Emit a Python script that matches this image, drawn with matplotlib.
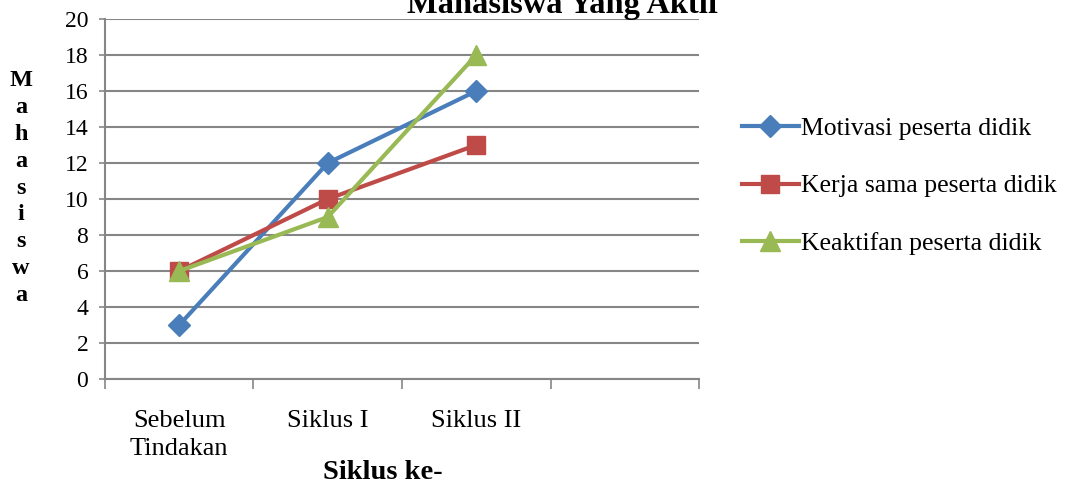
import matplotlib.pyplot as plt

siklus = ["Sebelum\nTindakan", "Siklus I", "Siklus II"]
motivasi = [3, 12, 16]
kerja_sama = [6, 10, 13]
keaktifan = [6, 9, 18]

plt.rcParams['font.family'] = ['Liberation Serif', 'DejaVu Serif']

fig = plt.figure(figsize=(10.68, 4.84), dpi=100)
ax = fig.add_axes([0.0983, 0.2169, 0.5562, 0.7438])

x = list(range(len(siklus)))
ax.plot(x, motivasi, color='#4A7EBB', lw=3, marker='D', ms=11,
        label='Motivasi peserta didik', zorder=3)
ax.plot(x, kerja_sama, color='#BE4B48', lw=3, marker='s', ms=13,
        label='Kerja sama peserta didik', zorder=3)
ax.plot(x, keaktifan, color='#98B954', lw=3, marker='^', ms=14,
        label='Keaktifan peserta didik', zorder=3)

ax.set_xlim(-0.5, 3.5)
ax.set_ylim(0, 20)
ax.set_yticks(range(0, 21, 2))
ax.yaxis.grid(True, color='#868686', lw=1.5)
ax.set_axisbelow(True)

# category boundaries get the tick marks, the labels sit between them
ax.set_xticks([-0.5, 0.5, 1.5, 2.5, 3.5])
ax.set_xticklabels([])
ax.set_xticks(x, minor=True)
ax.set_xticklabels(siklus, minor=True, fontsize=19, linespacing=1.4)
ax.tick_params(axis='x', which='major', direction='out', length=7,
               width=1.2, color='#868686')
ax.tick_params(axis='x', which='minor', length=0, pad=22)
ax.tick_params(axis='y', direction='out', length=4, width=1.2,
               color='#868686', labelsize=17, pad=8)

for side in ['top', 'right']:
    ax.spines[side].set_visible(False)
for side in ['left', 'bottom']:
    ax.spines[side].set_color('#868686')
    ax.spines[side].set_linewidth(1.5)

fig.text(383 / 1068, 1 - 479 / 484, "Siklus ke-", fontsize=20.5,
         fontweight='bold', ha='center', va='baseline')
fig.text(0.0196, 1 - 188 / 484, "\n".join("Mahasiswa"), fontsize=17.5,
         fontweight='bold', ha='center', va='center', linespacing=1.36)
fig.text(563 / 1068, 1 - 13 / 484, "Mahasiswa Yang Aktif", fontsize=23.4,
         fontweight='bold', ha='center', va='baseline')

ax.legend(loc='center left', bbox_to_anchor=(742 / 1068, 1 - 186 / 484),
          bbox_transform=fig.transFigure, frameon=False, fontsize=18.5,
          handlelength=2.2, handletextpad=0.1, labelspacing=1.34,
          borderpad=0, borderaxespad=0)

fig.savefig('out.png', dpi=100)
